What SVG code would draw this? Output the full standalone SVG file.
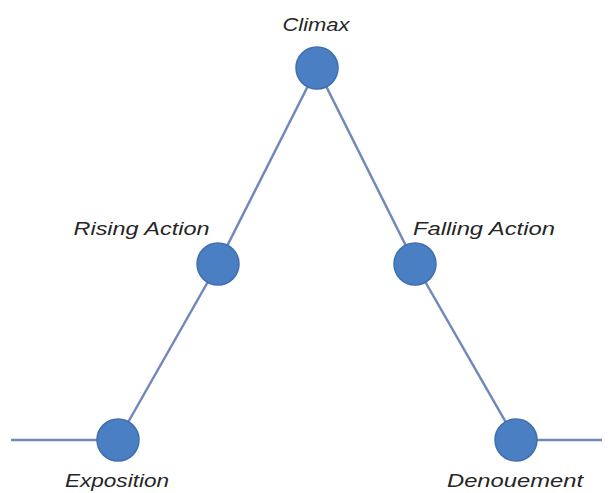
<svg xmlns="http://www.w3.org/2000/svg" width="613" height="493" viewBox="0 0 613 493">
<style>
.ln{stroke:#7089b8;stroke-width:2.5;fill:none}
.nd{fill:#4a7fc4;stroke:#3f6fae;stroke-width:1.5}
.lb{font-family:"Liberation Sans",Arial,sans-serif;font-style:italic;font-size:19px;fill:#262626;text-anchor:middle}
</style>
<rect width="613" height="493" fill="#fff"/>
<g id="connectors">
<line class="ln" x1="11" y1="440" x2="118" y2="440"/>
<line class="ln" x1="118" y1="440" x2="218" y2="264"/>
<line class="ln" x1="218" y1="264" x2="317" y2="68"/>
<line class="ln" x1="317" y1="68" x2="415" y2="264"/>
<line class="ln" x1="415" y1="264" x2="516" y2="440"/>
<line class="ln" x1="516" y1="440" x2="602" y2="440"/>
</g>
<g id="climax"><circle class="nd" cx="317" cy="68" r="21"/><text class="lb" x="316" y="31" textLength="67" lengthAdjust="spacingAndGlyphs">Climax</text></g>
<g id="rising"><circle class="nd" cx="218" cy="264" r="21"/><text class="lb" x="141.5" y="235" textLength="136" lengthAdjust="spacingAndGlyphs">Rising Action</text></g>
<g id="falling"><circle class="nd" cx="415" cy="264" r="21"/><text class="lb" x="484" y="235" textLength="142" lengthAdjust="spacingAndGlyphs">Falling Action</text></g>
<g id="exposition"><circle class="nd" cx="118" cy="440" r="21"/><text class="lb" x="117" y="487" textLength="104" lengthAdjust="spacingAndGlyphs">Exposition</text></g>
<g id="denouement"><circle class="nd" cx="516" cy="440" r="21"/><text class="lb" x="515" y="487" textLength="136" lengthAdjust="spacingAndGlyphs">Denouement</text></g>
</svg>
